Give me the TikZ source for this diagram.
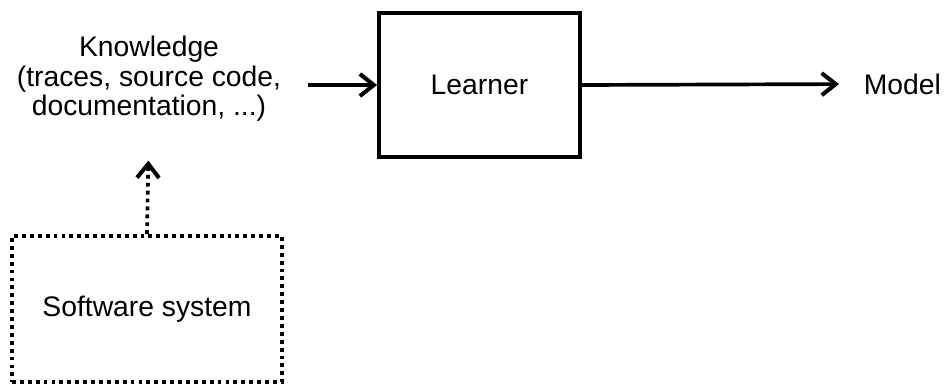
\documentclass[tikz,border=0pt]{standalone}
\usepackage{fontspec}
\setmainfont{Liberation Sans}
\usetikzlibrary{arrows.meta,positioning}

\begin{document}
\begin{tikzpicture}
	\tikzset{
		block/.style={draw,line width=2.1pt,minimum width=4.02cm,minimum height=2.88cm},
		srcbox/.style={draw,line width=2.2pt,dash pattern=on 2.2pt off 2.3pt,minimum width=5.4cm,minimum height=2.92cm},
		lbl/.style={align=center,inner sep=2pt,font=\fontsize{16.1}{16.8}\selectfont},
		flow/.style={line width=2.1pt,-{Straight Barb[length=0.28cm,width=0.44cm,line width=2.3pt]}}
	}
	\useasboundingbox (0,0) rectangle (18.88,-7.7);
	\node[block,lbl] (learner) at (9.59,-1.70) {Learner};
	\node[lbl] (know) at (2.98,-1.58) {Knowledge\\(traces, source code,\\documentation, ...)};
	\node[lbl,anchor=west] (model) at (17.2,-1.68) {Model};
	\node[srcbox,lbl] (sys) at (2.94,-6.18) {Software system};
	\draw[flow] (learner.west -| know.east) ++(0.46,0) coordinate (kin) (kin) -- (learner.west);
	\draw[flow,shorten >=0.42cm] (learner.east) -- (model.west);
	\draw[flow,dash pattern=on 2.2pt off 2.3pt,shorten >=0.7cm] (sys.north) -- (know.south);
\end{tikzpicture}
\end{document}
